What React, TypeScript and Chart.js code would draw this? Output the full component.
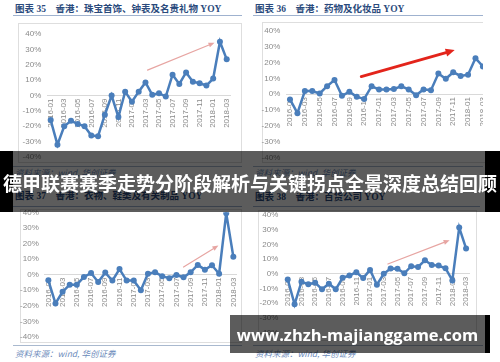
import React, { useEffect, useRef } from "react";
import { Chart, registerables } from "chart.js";

Chart.register(...registerables);

// ---- data ----
const months = [
  "2016-01", "2016-02", "2016-03", "2016-04", "2016-05", "2016-06", "2016-07", "2016-08", "2016-09",
  "2016-10", "2016-11", "2016-12", "2017-01", "2017-02", "2017-03", "2017-04", "2017-05", "2017-06",
  "2017-07", "2017-08", "2017-09", "2017-10", "2017-11", "2017-12", "2018-01", "2018-02", "2018-03",
];

// 图表35 珠宝首饰、钟表及名贵礼物 YOY (%)
const jewelryYoy = [-16, -32, -20, -16.5, -18.5, -20, -26, -26.5, -12.5, 0, -14, 2.5, -4, 2.5, 8.5, 0.5, 1.5, -0.7, 13.5, 7.5, 15, 9, 8, 6.5, 11, 35, 23.5];
// 图表36 药物及化妆品 YOY (%)
const cosmeticsYoy = [-3.3, -12, 2, 2, 0.4, 5, 9, -1, 1.5, -1.7, -3, 5, 3, 3, 3.3, 5, 3, -0.7, 3, 2.5, 13, 9.7, 13.8, 11.5, 12.3, 22.7, 17.5];
// 图表37 衣物、鞋类及有关制品 YOY (%)
const clothingYoy = [-3.6, -18.5, -11, -6.4, -6.4, -1.5, 1, -4.7, 1.3, -3.8, 3.6, -3.8, -3.8, -10, 0.6, 1.5, -1, -2.3, -0.2, -1.7, 1.5, 6.2, 3.2, 6, 0.6, 39.4, 11.5];
// 图表38 百货公司 YOY (%)
const deptStoreYoy = [-3.8, -20.7, -5.4, -7, -6, -10.5, -6.7, -10.5, -2.7, -1.1, 1.1, -2.9, 2.7, -7.4, 0, 3.6, 3.4, 0.4, 5.2, 4.7, 9.2, 6, 5.6, 3.8, -4.5, 31.5, 17.3];

// trend arrows in data units: [fromIndex, fromValue, toIndex, toValue]
const jewelryArrow = [14.3, 16.5, 24.2, 34.3];
const cosmeticsArrow = [9.6, 11.1, 22.2, 27.8];
const clothingArrow = [19.0, 4.9, 23.9, 18.7];
const deptStoreArrow = [14.6, 6.7, 23.6, 22.9];

const yMin = -40;
const yMax = 40;
const yStep = 10;

const titles = [
  "香港：珠宝首饰、钟表及名贵礼物 YOY",
  "香港：药物及化妆品 YOY",
  "香港：衣物、鞋类及有关制品 YOY",
  "香港：百货公司 YOY",
];
const figureNos = ["35", "36", "37", "38"];
const sourceText = "资料来源：wind, 华创证券";
const bannerText = "德甲联赛赛季走势分阶段解析与关键拐点全景深度总结回顾";
const urlText = "www.zhzh-majianggame.com";

// ---- styles ----
const BLUE = "#4a7ebb";
const TICK = "#8a8a8a";
const TICK_FONT = { size: 8, family: "'Liberation Sans', Arial, sans-serif" };

type Box = { left: number; top: number; width: number; height: number };
type Area = { l: number; t: number; r: number; b: number };

function arrowPlugin(arrow: number[], color: string, lw: number, headLen: number, headW: number) {
  return {
    id: "trendArrow",
    afterDatasetsDraw(chart: any) {
      const { ctx, scales } = chart;
      const xs = scales.x;
      const ys = scales.y;
      const x1 = xs.getPixelForValue(arrow[0]);
      const y1 = ys.getPixelForValue(arrow[1]);
      const x2 = xs.getPixelForValue(arrow[2]);
      const y2 = ys.getPixelForValue(arrow[3]);
      const ang = Math.atan2(y2 - y1, x2 - x1);
      const bx = x2 - Math.cos(ang) * headLen;
      const by = y2 - Math.sin(ang) * headLen;
      ctx.save();
      ctx.strokeStyle = color;
      ctx.fillStyle = color;
      ctx.lineWidth = lw;
      ctx.lineCap = "round";
      ctx.beginPath();
      ctx.moveTo(x1, y1);
      ctx.lineTo(bx, by);
      ctx.stroke();
      ctx.beginPath();
      ctx.moveTo(x2, y2);
      ctx.lineTo(bx + Math.sin(ang) * headW / 2, by - Math.cos(ang) * headW / 2);
      ctx.lineTo(bx - Math.sin(ang) * headW / 2, by + Math.cos(ang) * headW / 2);
      ctx.closePath();
      ctx.fill();
      ctx.restore();
    },
  };
}

function LineChart(props: {
  box: Box;
  area: Area;
  values: number[];
  arrow: number[];
  arrowColor: string;
  arrowWidth: number;
  headLen: number;
  headW: number;
}) {
  const ref = useRef<HTMLCanvasElement | null>(null);
  const { box, area, values, arrow, arrowColor, arrowWidth, headLen, headW } = props;
  useEffect(() => {
    const canvas = ref.current;
    if (!canvas) return;
    const chart = new Chart(canvas, {
      type: "line",
      data: {
        labels: months,
        datasets: [
          {
            data: values,
            borderColor: BLUE,
            backgroundColor: BLUE,
            borderWidth: 2.5,
            pointRadius: 3,
            pointBackgroundColor: BLUE,
            pointBorderWidth: 0,
            tension: 0,
          },
        ],
      },
      options: {
        responsive: false,
        animation: false,
        devicePixelRatio: 1,
        layout: {
          padding: { left: 0, top: area.t, right: box.width - area.r, bottom: box.height - area.b },
        },
        plugins: { legend: { display: false }, tooltip: { enabled: false } },
        scales: {
          x: {
            type: "category",
            offset: true,
            position: { y: 0 } as any,
            grid: { display: false, drawTicks: false },
            border: { display: true, color: "#d9d9d9", width: 1 },
            ticks: {
              autoSkip: false,
              minRotation: 90,
              maxRotation: 90,
              padding: 3,
              color: TICK,
              font: TICK_FONT,
              callback: (_v: any, i: number) => (i % 2 === 0 ? months[i] : ""),
            },
          },
          y: {
            min: yMin,
            max: yMax,
            position: "left",
            grid: { display: false, drawTicks: false },
            border: { display: false },
            ticks: {
              stepSize: yStep,
              padding: 6,
              color: TICK,
              font: TICK_FONT,
              callback: (v: any) => `${v}%`,
            },
            afterFit: (s: any) => {
              s.width = area.l;
            },
          },
        },
      },
      plugins: [arrowPlugin(arrow, arrowColor, arrowWidth, headLen, headW)],
    });
    return () => chart.destroy();
  }, []);
  return (
    <canvas
      ref={ref}
      width={box.width}
      height={box.height}
      style={{ position: "absolute", left: box.left, top: box.top, width: box.width, height: box.height }}
    />
  );
}

const abs = (s: any) => ({ position: "absolute" as const, ...s });

function Title({ left, top, no, text }: { left: number; top: number; no: string; text: string }) {
  return (
    <div
      style={abs({
        left,
        top,
        whiteSpace: "nowrap",
        fontFamily: "'Liberation Serif', 'Noto Sans CJK SC', serif",
        fontWeight: 700,
        fontSize: 9.5,
        lineHeight: "12px",
        color: "#2a4a7c",
      })}
    >
      图表 {no}&nbsp;&nbsp;&nbsp;&nbsp;{text}
    </div>
  );
}

function HLine({ left, top, width, color }: { left: number; top: number; width: number; color: string }) {
  return <div style={abs({ left, top, width, height: 1, background: color })} />;
}

function Frame({ left, top, right, bottom }: { left: number; top: number; right: number; bottom: number }) {
  return (
    <div
      style={abs({
        left,
        top,
        width: right - left,
        height: bottom - top,
        border: "1px solid #dedede",
        boxSizing: "border-box",
      })}
    />
  );
}

function Source({ left, top }: { left: number; top: number }) {
  return (
    <div
      style={abs({
        left,
        top,
        whiteSpace: "nowrap",
        fontFamily: "'Noto Sans CJK SC', sans-serif",
        fontStyle: "italic",
        fontSize: 8.5,
        lineHeight: "12px",
        color: "#6d8bbb",
      })}
    >
      {sourceText}
    </div>
  );
}

export default function App() {
  return (
    <div
      style={{
        position: "absolute",
        left: 0,
        top: 0,
        width: 500,
        height: 362,
        overflow: "hidden",
        background: "#fff",
      }}
    >
      {/* frames and rules */}
      <Frame left={18} top={23} right={242} bottom={163} />
      <Frame left={262} top={22} right={490} bottom={163} />
      <Frame left={20} top={209} right={242} bottom={343} />
      <Frame left={258} top={210} right={477} bottom={341} />

      <Title left={15} top={3} no={figureNos[0]} text={titles[0]} />
      <Title left={255} top={3} no={figureNos[1]} text={titles[1]} />
      <Title left={15} top={190} no={figureNos[2]} text={titles[2]} />
      <Title left={255} top={191} no={figureNos[3]} text={titles[3]} />

      <HLine left={13} top={15} width={229} color="#9fb2cf" />
      <HLine left={253} top={15} width={230} color="#9fb2cf" />
      <HLine left={13} top={206} width={229} color="#9fb2cf" />
      <HLine left={253} top={206} width={227} color="#9fb2cf" />

      <HLine left={13} top={166} width={229} color="#a9b9cf" />
      <HLine left={253} top={166} width={230} color="#a9b9cf" />
      <HLine left={13} top={345} width={229} color="#a9b9cf" />
      <HLine left={253} top={345} width={230} color="#a9b9cf" />

      <Source left={15} top={166} />
      <Source left={255} top={166} />
      <Source left={15} top={347} />
      <Source left={255} top={347} />

      {/* charts */}
      <LineChart
        box={{ left: 0, top: 20, width: 250, height: 150 }}
        area={{ l: 47.3, t: 14, r: 230.1, b: 137 }}
        values={jewelryYoy}
        arrow={jewelryArrow}
        arrowColor="#e7a5a2"
        arrowWidth={1.2}
        headLen={6}
        headW={5}
      />
      <LineChart
        box={{ left: 250, top: 20, width: 250, height: 150 }}
        area={{ l: 36.3, t: 8.3, r: 236.6, b: 137.5 }}
        values={cosmeticsYoy}
        arrow={cosmeticsArrow}
        arrowColor="#e3241b"
        arrowWidth={2.8}
        headLen={9}
        headW={8}
      />
      <LineChart
        box={{ left: 0, top: 200, width: 250, height: 150 }}
        area={{ l: 44.8, t: 12.3, r: 236.9, b: 137 }}
        values={clothingYoy}
        arrow={clothingArrow}
        arrowColor="#e7a5a2"
        arrowWidth={1.2}
        headLen={6}
        headW={5}
      />
      <LineChart
        box={{ left: 250, top: 200, width: 250, height: 150 }}
        area={{ l: 34.3, t: 15, r: 219.5, b: 132.7 }}
        values={deptStoreYoy}
        arrow={deptStoreArrow}
        arrowColor="#e7a5a2"
        arrowWidth={1.2}
        headLen={6}
        headW={5}
      />

      {/* right edge crop of the top-right figure */}
      <div style={abs({ left: 483, top: 0, width: 17, height: 151, background: "#fff" })} />

      {/* title banner */}
      <div style={abs({ left: 0, top: 151, width: 500, height: 61, background: "rgba(0,0,0,0.64)" })} />
      <div style={abs({ left: 0, top: 151, width: 13, height: 61, background: "#000" })} />
      <div style={abs({ left: 485, top: 151, width: 15, height: 61, background: "#000" })} />
      <div
        style={abs({
          left: 0,
          top: 151,
          width: 500,
          height: 61,
          display: "flex",
          alignItems: "center",
          justifyContent: "center",
          whiteSpace: "nowrap",
          fontFamily: "'Noto Sans CJK SC', sans-serif",
          fontWeight: 700,
          fontSize: 19,
          color: "#fff",
          paddingTop: 2,
          boxSizing: "border-box",
        })}
      >
        {bannerText}
      </div>

      {/* url banner */}
      <div style={abs({ left: 230, top: 315, width: 260, height: 38, background: "rgba(0,0,0,0.64)" })} />
      <div style={abs({ left: 485, top: 315, width: 5, height: 38, background: "#000" })} />
      <div
        style={abs({
          left: 230,
          top: 315,
          width: 255,
          height: 38,
          display: "flex",
          alignItems: "center",
          justifyContent: "center",
          whiteSpace: "nowrap",
          fontFamily: "'Open Sans', sans-serif",
          fontWeight: 700,
          fontSize: 16.5,
          color: "#fff",
        })}
      >
        {urlText}
      </div>
    </div>
  );
}
